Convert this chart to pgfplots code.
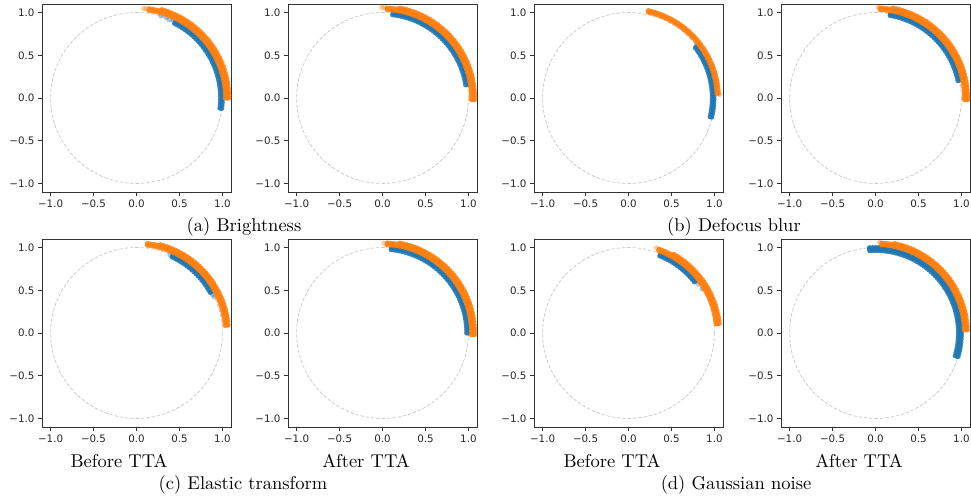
\documentclass[border=0pt]{standalone}
\usepackage{fontspec}
\usepackage{pgfplots}
\pgfplotsset{compat=1.18}
\usepackage{pgfplotstable}
\newfontfamily\tickfont{DejaVu Sans}
\newfontfamily\capfamily{lmroman10-regular}[Extension=.otf]
\newcommand\capfont{\capfamily\fontsize{18.5}{22}\selectfont}
\definecolor{mplblue}{HTML}{1F77B4}
\definecolor{mplorange}{HTML}{FF7F0E}

% polar data: a = angle (deg), r1..r3 = radius of the rows of points
% (a) Brightness, before
\pgfplotstableread{
a r1 r2
-7 0.978 1.0
-5 0.978 1.0
-3 0.978 1.0
-1 0.978 1.0
1 0.978 1.0
3 0.978 1.0
5 0.978 1.0
7 0.978 1.0
9 0.978 1.0
11 0.978 1.0
13 0.978 1.0
15 0.978 1.0
17 0.978 1.0
19 0.978 1.0
21 0.978 1.0
23 0.978 1.0
25 0.978 1.0
27 0.978 1.0
29 0.978 1.0
31 0.978 1.0
33 0.978 1.0
35 0.978 1.0
37 0.978 1.0
39 0.978 1.0
41 0.978 1.0
43 0.978 1.0
45 0.978 1.0
47 0.978 1.0
49 0.978 1.0
51 0.978 1.0
53 0.978 1.0
55 0.978 1.0
57 0.978 1.0
59 0.978 1.0
61 0.978 1.0
63 0.978 1.0
}\blueOne
\pgfplotstableread{
a r1 r2 r3
0 1.035 1.055 1.075
2 1.035 1.055 1.075
4 1.035 1.055 1.075
6 1.035 1.055 1.075
8 1.035 1.055 1.075
10 1.035 1.055 1.075
12 1.035 1.055 1.075
14 1.035 1.055 1.075
16 1.035 1.055 1.075
18 1.035 1.055 1.075
20 1.035 1.055 1.075
22 1.035 1.055 1.075
24 1.035 1.055 1.075
26 1.035 1.055 1.075
28 1.035 1.055 1.075
30 1.035 1.055 1.075
32 1.035 1.055 1.075
34 1.035 1.055 1.075
36 1.035 1.055 1.075
38 1.035 1.055 1.075
40 1.035 1.055 1.075
42 1.035 1.055 1.075
44 1.035 1.055 1.075
46 1.035 1.055 1.075
48 1.035 1.055 1.075
50 1.035 1.055 1.075
52 1.035 1.055 1.075
54 1.035 1.055 1.075
56 1.035 1.055 1.075
58 1.035 1.055 1.075
60 1.035 1.055 1.075
62 1.035 1.055 1.075
64 1.035 1.055 1.075
66 1.035 1.055 1.075
68 1.035 1.055 1.075
70 1.035 1.055 1.075
72 1.035 1.055 1.075
74 1.035 1.055 1.075
76 1.035 1.055 nan
78 1.035 1.055 nan
80 1.035 1.055 nan
82 1.035 1.055 nan
}\orangeOne
% (a) Brightness, after
\pgfplotstableread{
a r1 r2
9 0.98 1.0
11 0.98 1.0
13 0.98 1.0
15 0.98 1.0
17 0.98 1.0
19 0.98 1.0
21 0.98 1.0
23 0.98 1.0
25 0.98 1.0
27 0.98 1.0
29 0.98 1.0
31 0.98 1.0
33 0.98 1.0
35 0.98 1.0
37 0.98 1.0
39 0.98 1.0
41 0.98 1.0
43 0.98 1.0
45 0.98 1.0
47 0.98 1.0
49 0.98 1.0
51 0.98 1.0
53 0.98 1.0
55 0.98 1.0
57 0.98 1.0
59 0.98 1.0
61 0.98 1.0
63 0.98 1.0
65 0.98 1.0
67 0.98 1.0
69 0.98 1.0
71 0.98 1.0
73 0.98 1.0
75 0.98 1.0
77 0.98 1.0
79 0.98 1.0
81 0.98 1.0
83 0.98 1.0
}\blueTwo
\pgfplotstableread{
a r1 r2 r3
-1 1.035 1.055 1.072
1 1.035 1.055 1.072
3 1.035 1.055 1.072
5 1.035 1.055 1.072
7 1.035 1.055 1.072
9 1.035 1.055 1.072
11 1.035 1.055 1.072
13 1.035 1.055 1.072
15 1.035 1.055 1.072
17 1.035 1.055 1.072
19 1.035 1.055 1.072
21 1.035 1.055 1.072
23 1.035 1.055 1.072
25 1.035 1.055 1.072
27 1.035 1.055 1.072
29 1.035 1.055 1.072
31 1.035 1.055 1.072
33 1.035 1.055 1.072
35 1.035 1.055 1.072
37 1.035 1.055 1.072
39 1.035 1.055 1.072
41 1.035 1.055 1.072
43 1.035 1.055 1.072
45 1.035 1.055 1.072
47 1.035 1.055 1.072
49 1.035 1.055 1.072
51 1.035 1.055 1.072
53 1.035 1.055 1.072
55 1.035 1.055 1.072
57 1.035 1.055 1.072
59 1.035 1.055 1.072
61 1.035 1.055 1.072
63 1.035 1.055 1.072
65 1.035 1.055 1.072
67 1.035 1.055 1.072
69 1.035 1.055 1.072
71 1.035 1.055 1.072
73 1.035 1.055 1.072
75 1.035 1.055 1.072
77 1.035 1.055 1.072
79 1.035 1.055 1.072
81 1.035 1.055 nan
83 1.035 1.055 nan
85 1.035 1.055 nan
87 1.035 1.055 nan
}\orangeTwo
% (b) Defocus blur, before
\pgfplotstableread{
a r1 r2
-13 0.975 0.995
-11 0.975 0.995
-9 0.975 0.995
-7 0.975 0.995
-5 0.975 0.995
-3 0.975 0.995
-1 0.975 0.995
1 0.975 0.995
3 0.975 0.995
5 0.975 0.995
7 0.975 0.995
9 0.975 0.995
11 0.975 0.995
13 0.975 0.995
15 0.975 0.995
17 0.975 0.995
19 0.975 0.995
21 0.975 0.995
23 0.975 0.995
25 0.975 0.995
27 0.975 0.995
29 0.975 0.995
31 0.975 0.995
33 0.975 0.995
35 0.975 0.995
37 0.975 0.995
}\blueThree
\pgfplotstableread{
a r1 r2
3 1.03 1.048
5 1.03 1.048
7 1.03 1.048
9 1.03 1.048
11 1.03 1.048
13 1.03 1.048
15 1.03 1.048
17 1.03 1.048
19 1.03 1.048
21 1.03 1.048
23 1.03 1.048
25 1.03 1.048
27 1.03 1.048
29 1.03 1.048
31 1.03 1.048
33 1.03 1.048
35 1.03 1.048
37 1.03 1.048
39 1.03 1.048
41 1.03 1.048
43 1.03 1.048
45 1.03 1.048
47 1.03 1.048
49 1.03 1.048
51 1.03 1.048
53 1.03 1.048
55 1.03 1.048
57 1.03 1.048
59 1.03 1.048
61 1.03 1.048
63 1.03 1.048
65 1.03 1.048
67 1.03 1.048
69 1.03 1.048
71 1.03 1.048
73 1.03 1.048
75 1.03 1.048
77 1.03 1.048
}\orangeThree
% (b) Defocus blur, after
\pgfplotstableread{
a r1 r2
12 0.98 1.0
14 0.98 1.0
16 0.98 1.0
18 0.98 1.0
20 0.98 1.0
22 0.98 1.0
24 0.98 1.0
26 0.98 1.0
28 0.98 1.0
30 0.98 1.0
32 0.98 1.0
34 0.98 1.0
36 0.98 1.0
38 0.98 1.0
40 0.98 1.0
42 0.98 1.0
44 0.98 1.0
46 0.98 1.0
48 0.98 1.0
50 0.98 1.0
52 0.98 1.0
54 0.98 1.0
56 0.98 1.0
58 0.98 1.0
60 0.98 1.0
62 0.98 1.0
64 0.98 1.0
66 0.98 1.0
68 0.98 1.0
70 0.98 1.0
72 0.98 1.0
74 0.98 1.0
76 0.98 1.0
78 0.98 1.0
80 0.98 1.0
}\blueFour
\pgfplotstableread{
a r1 r2 r3
-1 1.035 1.055 1.072
1 1.035 1.055 1.072
3 1.035 1.055 1.072
5 1.035 1.055 1.072
7 1.035 1.055 1.072
9 1.035 1.055 1.072
11 1.035 1.055 1.072
13 1.035 1.055 1.072
15 1.035 1.055 1.072
17 1.035 1.055 1.072
19 1.035 1.055 1.072
21 1.035 1.055 1.072
23 1.035 1.055 1.072
25 1.035 1.055 1.072
27 1.035 1.055 1.072
29 1.035 1.055 1.072
31 1.035 1.055 1.072
33 1.035 1.055 1.072
35 1.035 1.055 1.072
37 1.035 1.055 1.072
39 1.035 1.055 1.072
41 1.035 1.055 1.072
43 1.035 1.055 1.072
45 1.035 1.055 1.072
47 1.035 1.055 1.072
49 1.035 1.055 1.072
51 1.035 1.055 1.072
53 1.035 1.055 1.072
55 1.035 1.055 1.072
57 1.035 1.055 1.072
59 1.035 1.055 1.072
61 1.035 1.055 1.072
63 1.035 1.055 1.072
65 1.035 1.055 1.072
67 1.035 1.055 1.072
69 1.035 1.055 1.072
71 1.035 1.055 1.072
73 1.035 1.055 1.072
75 1.035 1.055 1.072
77 1.035 1.055 1.072
79 1.035 1.055 1.072
81 1.035 1.055 nan
83 1.035 1.055 nan
85 1.035 1.055 nan
87 1.035 1.055 nan
}\orangeFour
% (c) Elastic transform, before
\pgfplotstableread{
a r1 r2
29 0.98 0.998
31 0.98 0.998
33 0.98 0.998
35 0.98 0.998
37 0.98 0.998
39 0.98 0.998
41 0.98 0.998
43 0.98 0.998
45 0.98 0.998
47 0.98 0.998
49 0.98 0.998
51 0.98 0.998
53 0.98 0.998
55 0.98 0.998
57 0.98 0.998
59 0.98 0.998
61 0.98 0.998
63 0.98 0.998
65 0.98 0.998
}\blueFive
\pgfplotstableread{
a r1 r2 r3
5 1.035 1.055 1.07
7 1.035 1.055 1.07
9 1.035 1.055 1.07
11 1.035 1.055 1.07
13 1.035 1.055 1.07
15 1.035 1.055 1.07
17 1.035 1.055 1.07
19 1.035 1.055 1.07
21 1.035 1.055 1.07
23 1.035 1.055 1.07
25 1.035 1.055 1.07
27 1.035 1.055 1.07
29 1.035 1.055 1.07
31 1.035 1.055 1.07
33 1.035 1.055 1.07
35 1.035 1.055 1.07
37 1.035 1.055 1.07
39 1.035 1.055 1.07
41 1.035 1.055 1.07
43 1.035 1.055 1.07
45 1.035 1.055 1.07
47 1.035 1.055 1.07
49 1.035 1.055 1.07
51 1.035 1.055 1.07
53 1.035 1.055 1.07
55 1.035 1.055 1.07
57 1.035 1.055 1.07
59 1.035 1.055 1.07
61 1.035 1.055 1.07
63 1.035 1.055 1.07
65 1.035 1.055 1.07
67 1.035 1.055 1.07
69 1.035 1.055 1.07
71 1.035 1.055 1.07
73 1.035 1.055 1.07
75 1.035 1.055 1.07
77 1.035 1.055 nan
79 1.035 1.055 nan
81 1.035 1.055 nan
83 1.035 1.055 nan
}\orangeFive
% (c) Elastic transform, after
\pgfplotstableread{
a r1 r2
0 0.98 1.0
2 0.98 1.0
4 0.98 1.0
6 0.98 1.0
8 0.98 1.0
10 0.98 1.0
12 0.98 1.0
14 0.98 1.0
16 0.98 1.0
18 0.98 1.0
20 0.98 1.0
22 0.98 1.0
24 0.98 1.0
26 0.98 1.0
28 0.98 1.0
30 0.98 1.0
32 0.98 1.0
34 0.98 1.0
36 0.98 1.0
38 0.98 1.0
40 0.98 1.0
42 0.98 1.0
44 0.98 1.0
46 0.98 1.0
48 0.98 1.0
50 0.98 1.0
52 0.98 1.0
54 0.98 1.0
56 0.98 1.0
58 0.98 1.0
60 0.98 1.0
62 0.98 1.0
64 0.98 1.0
66 0.98 1.0
68 0.98 1.0
70 0.98 1.0
72 0.98 1.0
74 0.98 1.0
76 0.98 1.0
78 0.98 1.0
80 0.98 1.0
82 0.98 1.0
84 0.98 1.0
}\blueSix
\pgfplotstableread{
a r1 r2 r3
-1 1.035 1.055 1.072
1 1.035 1.055 1.072
3 1.035 1.055 1.072
5 1.035 1.055 1.072
7 1.035 1.055 1.072
9 1.035 1.055 1.072
11 1.035 1.055 1.072
13 1.035 1.055 1.072
15 1.035 1.055 1.072
17 1.035 1.055 1.072
19 1.035 1.055 1.072
21 1.035 1.055 1.072
23 1.035 1.055 1.072
25 1.035 1.055 1.072
27 1.035 1.055 1.072
29 1.035 1.055 1.072
31 1.035 1.055 1.072
33 1.035 1.055 1.072
35 1.035 1.055 1.072
37 1.035 1.055 1.072
39 1.035 1.055 1.072
41 1.035 1.055 1.072
43 1.035 1.055 1.072
45 1.035 1.055 1.072
47 1.035 1.055 1.072
49 1.035 1.055 1.072
51 1.035 1.055 1.072
53 1.035 1.055 1.072
55 1.035 1.055 1.072
57 1.035 1.055 1.072
59 1.035 1.055 1.072
61 1.035 1.055 1.072
63 1.035 1.055 1.072
65 1.035 1.055 1.072
67 1.035 1.055 1.072
69 1.035 1.055 1.072
71 1.035 1.055 1.072
73 1.035 1.055 1.072
75 1.035 1.055 1.072
77 1.035 1.055 1.072
79 1.035 1.055 1.072
81 1.035 1.055 nan
83 1.035 1.055 nan
85 1.035 1.055 nan
87 1.035 1.055 nan
}\orangeSix
% (d) Gaussian noise, before
\pgfplotstableread{
a r1 r2
38 0.972 0.99
40 0.972 0.99
42 0.972 0.99
44 0.972 0.99
46 0.972 0.99
48 0.972 0.99
50 0.972 0.99
52 0.972 0.99
54 0.972 0.99
56 0.972 0.99
58 0.972 0.99
60 0.972 0.99
62 0.972 0.99
64 0.972 0.99
66 0.972 0.99
68 0.972 0.99
}\blueSeven
\pgfplotstableread{
a r1 r2 r3
6 1.025 1.045 1.062
8 1.025 1.045 1.062
10 1.025 1.045 1.062
12 1.025 1.045 1.062
14 1.025 1.045 1.062
16 1.025 1.045 1.062
18 1.025 1.045 1.062
20 1.025 1.045 1.062
22 1.025 1.045 1.062
24 1.025 1.045 1.062
26 1.025 1.045 1.062
28 1.025 1.045 1.062
30 1.025 1.045 1.062
32 1.025 1.045 1.062
34 1.025 1.045 1.062
36 1.025 1.045 1.062
38 1.025 1.045 1.062
40 1.025 1.045 1.062
42 1.025 1.045 1.062
44 1.025 1.045 1.062
46 1.025 1.045 1.062
48 1.025 1.045 1.062
50 1.025 1.045 1.062
52 1.025 1.045 1.062
54 1.025 1.045 1.062
56 1.025 1.045 1.062
58 1.025 1.045 1.062
60 1.025 1.045 1.062
62 1.025 1.045 nan
64 1.025 1.045 nan
66 1.025 1.045 nan
68 1.025 1.045 nan
70 1.025 1.045 nan
}\orangeSeven
% (d) Gaussian noise, after
\pgfplotstableread{
a r1 r2 r3
-16 0.965 0.985 1.0
-14 0.965 0.985 1.0
-12 0.965 0.985 1.0
-10 0.965 0.985 1.0
-8 0.965 0.985 1.0
-6 0.965 0.985 1.0
-4 0.965 0.985 1.0
-2 0.965 0.985 1.0
0 0.965 0.985 1.0
2 0.965 0.985 1.0
4 0.965 0.985 1.0
6 0.965 0.985 1.0
8 0.965 0.985 1.0
10 0.965 0.985 1.0
12 0.965 0.985 1.0
14 0.965 0.985 1.0
16 0.965 0.985 1.0
18 0.965 0.985 1.0
20 0.965 0.985 1.0
22 0.965 0.985 1.0
24 0.965 0.985 1.0
26 0.965 0.985 1.0
28 0.965 0.985 1.0
30 0.965 0.985 1.0
32 0.965 0.985 1.0
34 0.965 0.985 1.0
36 0.965 0.985 1.0
38 0.965 0.985 1.0
40 0.965 0.985 1.0
42 0.965 0.985 1.0
44 0.965 0.985 1.0
46 0.965 0.985 1.0
48 0.965 0.985 1.0
50 0.965 0.985 1.0
52 0.965 0.985 1.0
54 0.965 0.985 1.0
56 0.965 0.985 1.0
58 0.965 0.985 1.0
60 0.965 0.985 1.0
62 0.965 0.985 1.0
64 0.965 0.985 1.0
66 0.965 0.985 1.0
68 0.965 0.985 1.0
70 0.965 0.985 1.0
72 0.965 0.985 1.0
74 0.965 0.985 1.0
76 0.965 0.985 1.0
78 0.965 0.985 1.0
80 0.965 0.985 1.0
82 0.965 0.985 1.0
84 0.965 0.985 1.0
86 0.965 0.985 1.0
88 0.965 0.985 1.0
90 0.965 0.985 1.0
92 0.965 0.985 1.0
94 0.965 0.985 1.0
}\blueEight
\pgfplotstableread{
a r1 r2 r3
2 1.035 1.055 1.07
4 1.035 1.055 1.07
6 1.035 1.055 1.07
8 1.035 1.055 1.07
10 1.035 1.055 1.07
12 1.035 1.055 1.07
14 1.035 1.055 1.07
16 1.035 1.055 1.07
18 1.035 1.055 1.07
20 1.035 1.055 1.07
22 1.035 1.055 1.07
24 1.035 1.055 1.07
26 1.035 1.055 1.07
28 1.035 1.055 1.07
30 1.035 1.055 1.07
32 1.035 1.055 1.07
34 1.035 1.055 1.07
36 1.035 1.055 1.07
38 1.035 1.055 1.07
40 1.035 1.055 1.07
42 1.035 1.055 1.07
44 1.035 1.055 1.07
46 1.035 1.055 1.07
48 1.035 1.055 1.07
50 1.035 1.055 1.07
52 1.035 1.055 1.07
54 1.035 1.055 1.07
56 1.035 1.055 1.07
58 1.035 1.055 1.07
60 1.035 1.055 1.07
62 1.035 1.055 1.07
64 1.035 1.055 1.07
66 1.035 1.055 1.07
68 1.035 1.055 1.07
70 1.035 1.055 1.07
72 1.035 1.055 1.07
74 1.035 1.055 1.07
76 1.035 1.055 1.07
78 1.035 1.055 1.07
80 1.035 1.055 nan
82 1.035 1.055 nan
84 1.035 1.055 nan
86 1.035 1.055 nan
}\orangeEight

\pgfplotsset{
  unitcirc/.style={
    scale only axis, width=189pt, height=188pt, anchor=north west,
    xmin=-1.1, xmax=1.1, ymin=-1.1, ymax=1.1,
    axis line style={black!80, line width=0.9pt},
    tick align=outside, tick pos=left,
    major tick length=4pt,
    major tick style={black!80, line width=0.8pt},
    xtick={-1,-0.5,0,0.5,1}, ytick={-1,-0.5,0,0.5,1},
    xticklabels={−1.0,−0.5,0.0,0.5,1.0},
    yticklabels={−1.0,−0.5,0.0,0.5,1.0},
    ticklabel style={font=\tickfont\fontsize{10.3}{12}\selectfont, text=black!85},
    unbounded coords=discard,
  },
  dots/.style={only marks, mark=*, mark size=2.6pt, data cs=polar, color=#1,
    mark options={solid, fill=#1, draw opacity=0, line width=0pt, fill opacity=0.88}},
  faint/.style={only marks, mark=*, mark size=2.6pt, data cs=polar, color=#1,
    mark options={solid, fill=#1, draw opacity=0, line width=0pt, fill opacity=0.4}},
}
\newcommand\unitcircle{\draw[black!22, line width=0.7pt, dash pattern=on 3.5pt off 1.8pt] (axis cs:0,0) circle[radius=1];}
\newcommand\tworows[2]{%
  \addplot[dots=#1] table[x=a, y=r1] {#2};
  \addplot[dots=#1] table[x=a, y=r2] {#2};}
\newcommand\threerows[2]{%
  \tworows{#1}{#2}
  \addplot[dots=#1] table[x=a, y=r3] {#2};}

\begin{document}
\begin{tikzpicture}
\useasboundingbox (0,0) rectangle (971pt,-495pt);

% row 1
\begin{axis}[unitcirc, at={(42pt,-4pt)}]
  \unitcircle
  \tworows{mplblue}{\blueOne}
  \addplot[faint=mplblue] coordinates {(65,1.0) (67.5,0.99) (70,1.0) (73.5,1.0)};
  \threerows{mplorange}{\orangeOne}
  \addplot[faint=mplorange] coordinates {(84,1.05) (85.5,1.05)};
\end{axis}
\begin{axis}[unitcirc, at={(288pt,-4pt)}]
  \unitcircle
  \tworows{mplblue}{\blueTwo}
  \threerows{mplorange}{\orangeTwo}
  \addplot[faint=mplorange] coordinates {(89,1.06) (90.5,1.06)};
\end{axis}
\begin{axis}[unitcirc, at={(534pt,-4pt)}]
  \unitcircle
  \tworows{mplblue}{\blueThree}
  \addplot[faint=mplblue] coordinates {(38,1.0)};
  \tworows{mplorange}{\orangeThree}
  \addplot[faint=mplorange] coordinates {(2,1.06) (77.5,1.05)};
\end{axis}
\begin{axis}[unitcirc, at={(781pt,-4pt)}]
  \unitcircle
  \tworows{mplblue}{\blueFour}
  \threerows{mplorange}{\orangeFour}
  \addplot[faint=mplorange] coordinates {(88.5,1.06)};
\end{axis}

% row 2
\begin{axis}[unitcirc, at={(42pt,-239pt)}]
  \unitcircle
  \tworows{mplblue}{\blueFive}
  \addplot[faint=mplblue] coordinates {(25,1.0) (27,0.99) (67,0.995)};
  \threerows{mplorange}{\orangeFive}
\end{axis}
\begin{axis}[unitcirc, at={(288pt,-239pt)}]
  \unitcircle
  \tworows{mplblue}{\blueSix}
  \threerows{mplorange}{\orangeSix}
  \addplot[faint=mplorange] coordinates {(89,1.05)};
\end{axis}
\begin{axis}[unitcirc, at={(534pt,-239pt)}]
  \unitcircle
  \tworows{mplblue}{\blueSeven}
  \addplot[faint=mplblue] coordinates {(35,0.995) (31,1.0)};
  \threerows{mplorange}{\orangeSeven}
  \addplot[faint=mplorange] coordinates {(72,1.05)};
\end{axis}
\begin{axis}[unitcirc, at={(781pt,-239pt)}]
  \unitcircle
  \threerows{mplblue}{\blueEight}
  \threerows{mplorange}{\orangeEight}
  \addplot[faint=mplorange] coordinates {(87.5,1.06)};
\end{axis}

% captions
\node[anchor=base, font=\capfont] at (244pt,-231pt) {(a) Brightness};
\node[anchor=base, font=\capfont] at (734pt,-231pt) {(b) Defocus blur};
\node[anchor=base, font=\capfont] at (119pt,-467pt) {Before TTA};
\node[anchor=base, font=\capfont] at (366pt,-467pt) {After TTA};
\node[anchor=base, font=\capfont] at (612pt,-467pt) {Before TTA};
\node[anchor=base, font=\capfont] at (859pt,-467pt) {After TTA};
\node[anchor=base, font=\capfont] at (243pt,-489pt) {(c) Elastic transform};
\node[anchor=base, font=\capfont] at (736pt,-489pt) {(d) Gaussian noise};
\end{tikzpicture}
\end{document}
